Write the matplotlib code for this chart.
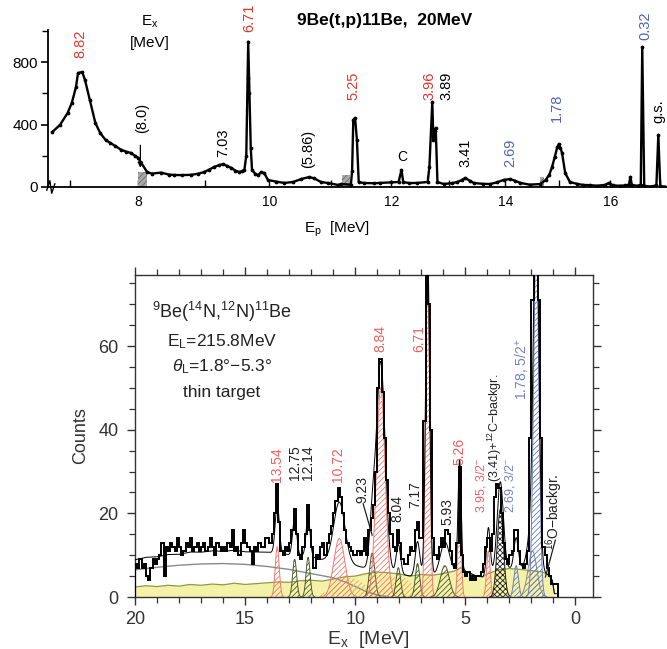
import numpy as np
import matplotlib
matplotlib.use("Agg")
import matplotlib.pyplot as plt
from matplotlib.ticker import FixedLocator, MultipleLocator
from matplotlib.patches import Rectangle

plt.rcParams['font.family'] = ['Liberation Sans', 'DejaVu Sans']
plt.rcParams['mathtext.fontset'] = 'custom'
plt.rcParams['mathtext.rm'] = 'Liberation Sans'
plt.rcParams['mathtext.it'] = 'Liberation Sans:italic'
plt.rcParams['mathtext.bf'] = 'Liberation Sans:bold'
plt.rcParams['hatch.linewidth'] = 0.6

# ---------------- top panel: 9Be(t,p)11Be spectrum ----------------
tp_ep = [6.75, 6.86, 6.97, 7.03, 7.09, 7.12, 7.18, 7.22, 7.29, 7.37, 7.44, 7.52, 7.59, 7.66,
         7.74, 7.82, 7.89, 7.95, 8.00, 8.13, 8.20, 8.34, 8.45, 8.53, 8.65, 8.79, 8.90, 8.99,
         9.07, 9.14, 9.22, 9.28, 9.34, 9.41, 9.47, 9.53, 9.58, 9.61, 9.64, 9.66, 9.67, 9.69,
         9.71, 9.73, 9.78, 9.83, 9.87, 9.92, 9.98, 10.10, 10.24, 10.38, 10.51, 10.64, 10.72,
         10.83, 10.95, 11.11, 11.16, 11.32, 11.34, 11.36, 11.39, 11.42, 11.45, 11.53, 11.70,
         11.81, 12.00, 12.12, 12.17, 12.20, 12.30, 12.44, 12.62, 12.65, 12.70, 12.72, 12.74,
         12.76, 12.79, 12.90, 13.05, 13.14, 13.22, 13.28, 13.36, 13.43, 13.60, 13.73, 13.85,
         13.97, 14.09, 14.18, 14.28, 14.45, 14.65, 14.75, 14.82, 14.87, 14.92, 14.97, 15.00,
         15.03, 15.06, 15.12, 15.21, 15.35, 15.47, 15.60, 15.74, 15.90, 15.97, 16.05, 16.19,
         16.30, 16.37, 16.40, 16.43, 16.55, 16.61, 16.64, 16.68, 16.80, 16.93, 16.97, 17.01, 17.10]
tp_counts = [352, 397, 474, 538, 640, 730, 736, 685, 557, 410, 346, 300, 282, 262,
             240, 226, 218, 200, 185, 95, 86, 92, 80, 77, 76, 78, 85, 96,
             112, 128, 140, 147, 135, 122, 105, 96, 102, 109, 200, 700, 930, 600,
             250, 109, 85, 77, 95, 90, 45, 35, 26, 32, 51, 64, 55,
             32, 25, 13, 19, 15, 100, 429, 442, 300, 32, 26, 24,
             26, 30, 32, 109, 32, 25, 26, 32, 128, 544, 300, 360,
             378, 32, 19, 25, 32, 45, 58, 40, 26, 20, 19, 30,
             45, 51, 40, 26, 15, 19, 45, 80, 128, 190, 256, 275,
             250, 218, 90, 32, 20, 13, 12, 8, 14, 26, 10, 8,
             10, 15, 64, 12, 8, 15, 896, 8, 3, 10, 333, 5, 3]
box_lo = [8.00, 11.17, 14.65]
box_hi = [8.13, 11.31, 14.72]
box_h = [96, 75, 64]
top_labels = ['8.82', '(8.0)', '7.03', '6.71', '(5.86)', '5.25', '3.96', '3.89',
              '3.41', '2.69', '1.78', '0.32', 'g.s.']
top_label_ep = [7.15, 8.06, 9.29, 9.68, 10.62, 11.37, 12.65, 12.95, 13.28, 14.09,
                14.97, 16.70, 16.98]

# ---------------- bottom panel: 9Be(14N,12N)11Be spectrum ----------------
hist_start = 20.0
hist_width = 0.1
hist_counts = [
    8, 7, 9, 7, 8, 5, 4, 7, 9, 8,          # 20 - 19
    9, 10, 13, 5, 12, 11, 13, 12, 11, 14,  # 19 - 18
    12, 10, 11, 13, 12, 14, 11, 12, 13, 11,  # 18 - 17
    12, 13, 11, 12, 14, 12, 10, 13, 12, 11,  # 17 - 16
    12, 11, 13, 12, 16, 11, 12, 10, 13, 16,  # 16 - 15
    13, 12, 11, 8, 12, 11, 13, 12, 12, 14,  # 15 - 14
    14, 13, 15, 20, 27, 18, 11, 10, 12, 11,  # 14 - 13
    13, 16, 21, 15, 10, 9, 12, 15, 22, 16,  # 13 - 12
    12, 7, 10, 9, 12, 13, 10, 13, 15, 17,   # 12 - 11
    20, 23, 26, 24, 20, 16, 13, 12, 11, 10,  # 11 - 10
    10, 11, 10, 11, 14, 10, 16, 19, 22, 30,  # 10 - 9
    50, 57, 49, 38, 28, 20, 15, 12, 11, 16,  # 9 - 8
    13, 9, 8, 8, 10, 12, 11, 16, 18, 14,    # 8 - 7
    14, 42, 85, 70, 40, 14, 10, 9, 12, 14,  # 7 - 6
    12, 16, 15, 11, 8, 7, 13, 31, 10, 6,    # 6 - 5
    5, 6, 4, 5, 4, 5, 5, 6, 8, 12,          # 5 - 4
    14, 11, 15, 24, 27, 26, 20, 13, 9, 8,   # 4 - 3
    10, 11, 16, 16, 11, 8, 7, 8, 11, 38,    # 3 - 2
    71, 85, 85, 71, 38, 12, 10, 7, 5, 3,    # 2 - 1
    3, 3]                                   # 1 - 0.8

peak_E = [13.54, 12.75, 12.14, 10.72, 9.23, 8.84, 8.04, 7.17, 6.71, 5.93, 5.26, 3.95,
          3.41, 2.69, 1.95, 1.78]
peak_height = [12, 9, 9.5, 14, 10.5, 50, 7, 8, 78, 7.5, 26, 11, 21, 7.5, 11, 85]
peak_sigma = [0.09, 0.09, 0.09, 0.25, 0.12, 0.2, 0.1, 0.1, 0.09, 0.2, 0.07, 0.08,
              0.14, 0.1, 0.2, 0.12]
peak_group = ['red', 'olive', 'olive', 'red', 'olive', 'red', 'olive', 'olive', 'red',
              'olive', 'red', 'red', 'black', 'blue', 'gray', 'blue']
broad_E = [10.2, 8.0]
broad_height = [4.5, 5.0]
broad_sigma = [0.7, 0.6]

yellow_E = [20, 19.5, 19, 18.5, 18, 17.5, 17, 16.5, 16, 15.5, 15, 14.5, 14, 13.5, 13, 12.5,
            12, 11.5, 11, 10.5, 10, 9.5, 9, 8.5, 8, 7.5, 7, 6.5, 6, 5.5, 5.2, 5.0, 4.5,
            4.2, 4.0, 3.5, 3.0, 2.5, 2.0, 1.5, 1.2, 1.05, 0.95]
yellow_top = [2.4, 2.7, 2.5, 2.8, 2.6, 3.0, 2.8, 3.1, 2.9, 3.3, 3.0, 3.2, 3.4, 3.6, 3.5, 3.9,
              4.0, 3.8, 4.3, 4.8, 5.0, 5.6, 6.0, 5.8, 5.5, 5.0, 5.4, 5.2, 5.6, 6.2, 7.0, 6.2,
              5.0, 4.8, 5.5, 6.5, 6.8, 6.6, 6.3, 6.0, 5.2, 4.0, 0.8]
gray_E = [20, 19, 18, 17, 16, 15, 14, 13, 12, 11, 10.5, 10, 9.5, 9, 8.5]
gray_val = [6.5, 7.1, 7.6, 7.9, 8.0, 7.8, 7.3, 6.6, 5.6, 4.6, 3.7, 2.5, 1.3, 0.5, 0.1]

# ---------------- figure ----------------
fig = plt.figure(figsize=(6.67, 6.49), dpi=100)
W, H = 667.0, 649.0

RED_T, BLUE_T = '#e0362c', '#4f63b5'
RED_B, BLUE_B = '#ee5f5f', '#7282c6'

# ---- top axes ----
def fwd(E):
    E = np.asarray(E, float)
    return 391 + 59 * (E - 12) - 1.07 * (E - 12) ** 2

def inv(p):
    p = np.asarray(p, float)
    disc = np.clip(3481 - 4.28 * (p - 391), 0, None)
    return 12 + (59 - np.sqrt(disc)) / 2.14

ax1 = fig.add_axes([48 / W, 1 - 187 / H, (667 - 48) / W, (187 - 30) / H])
ax1.set_xscale('function', functions=(fwd, inv))
ax1.set_xlim(6.69, 17.15)
ax1.set_ylim(0, 1005)
for s in ['top', 'right']:
    ax1.spines[s].set_visible(False)
for s in ['left', 'bottom']:
    ax1.spines[s].set_linewidth(1.3)
ax1.xaxis.set_major_locator(FixedLocator([8, 10, 12, 14, 16]))
ax1.xaxis.set_minor_locator(FixedLocator([7, 9, 11, 13, 15, 17]))
ax1.yaxis.set_major_locator(FixedLocator([0, 400, 800]))
ax1.yaxis.set_minor_locator(FixedLocator([200, 600, 1000]))
ax1.tick_params(axis='x', which='both', direction='in', length=5, width=1, labelsize=10, pad=6)
ax1.tick_params(axis='y', which='major', direction='out', length=5, width=1.2, labelsize=11, pad=2)
ax1.tick_params(axis='y', which='minor', direction='out', length=4, width=1)

for lo, hi, h in zip(box_lo, box_hi, box_h):
    ax1.add_patch(Rectangle((lo, 0), hi - lo, h, facecolor='#a8a8a8', edgecolor='#707070',
                            hatch='//////', lw=0, zorder=2))
ax1.plot(tp_ep, tp_counts, color='black', lw=1.7, marker='o', ms=1.7, zorder=3)

top_y = [826, 346, 190, 992, 122, 557, 557, 557, 128, 128, 416, 941, 410]
top_col = [RED_T, 'black', 'black', RED_T, 'black', RED_T, RED_T, 'black',
           'black', BLUE_T, BLUE_T, BLUE_T, 'black']
for lab, x, y, c in zip(top_labels, top_label_ep, top_y, top_col):
    ax1.text(x, y, lab, rotation=90, ha='center', va='bottom', fontsize=10.5,
             color=c, clip_on=False)
ax1.text(12.19, 150, 'C', ha='center', va='bottom', fontsize=10)
ax1.annotate('', xy=(8.03, 105), xytext=(8.03, 285),
             arrowprops=dict(arrowstyle='-|>', color='black', lw=0.9, mutation_scale=8))
# axis break mark at origin
ax1.plot([-0.002, 0.003, 0.006, 0.011], [-0.02, 0.04, -0.04, 0.02],
         transform=ax1.transAxes, color='black', lw=1.0, clip_on=False)
ax1.set_xlabel(r'E$_\mathregular{p}$  [MeV]', fontsize=11)
ax1.xaxis.set_label_coords((337 - 48) / 619, -0.21)

fig.text(150 / W, 1 - 22 / H, r'E$_\mathregular{x}$', ha='center', va='center', fontsize=11)
fig.text(150 / W, 1 - 43 / H, '[MeV]', ha='center', va='center', fontsize=11)
fig.text(385 / W, 1 - 20 / H, '9Be(t,p)11Be,  20MeV', ha='center', va='center',
         fontsize=12.5, fontweight='bold')

# ---- bottom axes ----
ax2 = fig.add_axes([135 / W, 1 - 597 / H, (593 - 135) / W, (597 - 275) / H])
ax2.set_xlim(20, -0.8)
ax2.set_ylim(0, 77)
for s in ax2.spines.values():
    s.set_linewidth(1.0)
    s.set_color('#333333')
ax2.xaxis.set_major_locator(MultipleLocator(5))
ax2.xaxis.set_minor_locator(MultipleLocator(1))
ax2.yaxis.set_major_locator(MultipleLocator(20))
ax2.yaxis.set_minor_locator(MultipleLocator(5))
ax2.tick_params(which='both', direction='out', top=True, right=True, color='#333333')
ax2.tick_params(which='major', length=6, width=1, labelsize=13, pad=4, labelcolor='#333333')
ax2.tick_params(axis='y', which='major', pad=6)
ax2.tick_params(which='minor', length=4, width=0.9)

Eg = np.linspace(20, 0.8, 4000)
yel = np.interp(Eg, yellow_E[::-1], yellow_top[::-1])
gry = np.interp(Eg, gray_E[::-1], gray_val[::-1], right=0.0, left=0.0)
ax2.fill_between(yellow_E, 0, yellow_top, facecolor='#f3f2a8', edgecolor='none', zorder=1)
ax2.plot(yellow_E, yellow_top, color='#8e9a48', lw=0.9, zorder=1.5)
ax2.plot(gray_E, gray_val, color='#8a8a8a', lw=1.0, zorder=2)

for c, h, s in zip(broad_E, broad_height, broad_sigma):
    g = h * np.exp(-0.5 * ((Eg - c) / s) ** 2)
    m = g > 0.05
    ax2.fill_between(Eg[m], 0, g[m], facecolor='none', edgecolor='#f0a050',
                     hatch='//////', lw=0, zorder=2)

group_col = {'red': '#f07a70', 'olive': '#4e5a2c', 'blue': '#6a7cc2',
             'gray': '#8a8a8a', 'black': '#222222'}
group_hatch = {'red': '//////', 'olive': '//////', 'blue': '//////',
               'gray': '//////', 'black': 'xxxxxx'}
fit = yel + gry
for c, h, s, gname in zip(peak_E, peak_height, peak_sigma, peak_group):
    g = h * np.exp(-0.5 * ((Eg - c) / s) ** 2)
    fit = fit + g
    m = g > 0.05
    col = group_col[gname]
    ax2.fill_between(Eg[m], 0, g[m], facecolor='none', edgecolor=col,
                     hatch=group_hatch[gname], lw=0, zorder=3)
    ax2.plot(Eg[m], g[m], color=col, lw=0.7, zorder=3)

edges = np.round(hist_start - hist_width * np.arange(len(hist_counts) + 1), 2)
ax2.stairs(hist_counts[::-1], edges[::-1], color='black', lw=1.4, baseline=0, zorder=5)
ax2.plot(Eg, fit, color='black', lw=0.7, zorder=6)

bot = [('13.54', 13.55, 27.5, RED_B, 10), ('12.75', 12.73, 28, '#222222', 10),
       ('12.14', 12.14, 28, '#222222', 10), ('10.72', 10.77, 27.5, RED_B, 10),
       ('9.23', 9.68, 22.5, '#222222', 10), ('8.84', 8.86, 58.5, RED_B, 10),
       ('8.04', 8.09, 18, '#222222', 10), ('7.17', 7.27, 21.3, '#222222', 10),
       ('6.71', 7.08, 58.6, RED_B, 10), ('5.93', 5.82, 17.2, '#222222', 10),
       ('5.26', 5.27, 31.6, RED_B, 10), (r'3.95, 3/2$^{-}$', 4.28, 20, RED_B, 9),
       (r'(3.41)+$^{12}$C$-$backgr.', 3.64, 27.5, '#222222', 9),
       (r'2.69, 3/2$^{-}$', 2.97, 20, BLUE_B, 9), (r'1.78, 5/2$^{+}$', 2.41, 47, BLUE_B, 10),
       (r'$^{16}$O$-$backgr.', 0.98, 11.2, '#222222', 10)]
for lab, x, y, c, fs in bot:
    ax2.text(x, y, lab, rotation=90, ha='center', va='bottom', fontsize=fs, color=c, zorder=7)
ax2.plot([9.64, 9.23], [22.3, 14.8], color='#222222', lw=0.9, zorder=7)
ax2.plot([0.91, 1.36], [13.6, 4.8], color='#222222', lw=0.9, zorder=7)

ax2.text(16.05, 68.2, r'$^{9}$Be($^{14}$N,$^{12}$N)$^{11}$Be', ha='center', va='center',
         fontsize=13, color='#222222')
ax2.text(16.05, 61.0, r'E$_\mathregular{L}$=215.8MeV', ha='center', va='center',
         fontsize=12.5, color='#222222')
ax2.text(16.05, 55.0, r'$\theta_\mathregular{L}$=1.8°$-$5.3°', ha='center', va='center',
         fontsize=12.5, color='#222222')
ax2.text(16.05, 48.8, 'thin target', ha='center', va='center', fontsize=12.5, color='#222222')

ax2.set_ylabel('Counts', fontsize=13, color='#333333')
ax2.yaxis.set_label_coords(-0.10, 0.5)
ax2.set_xlabel(r'E$_\mathregular{x}$  [MeV]', fontsize=14, color='#333333')
ax2.xaxis.set_label_coords(0.509, -0.098)

fig.savefig('out.png', dpi=100)
